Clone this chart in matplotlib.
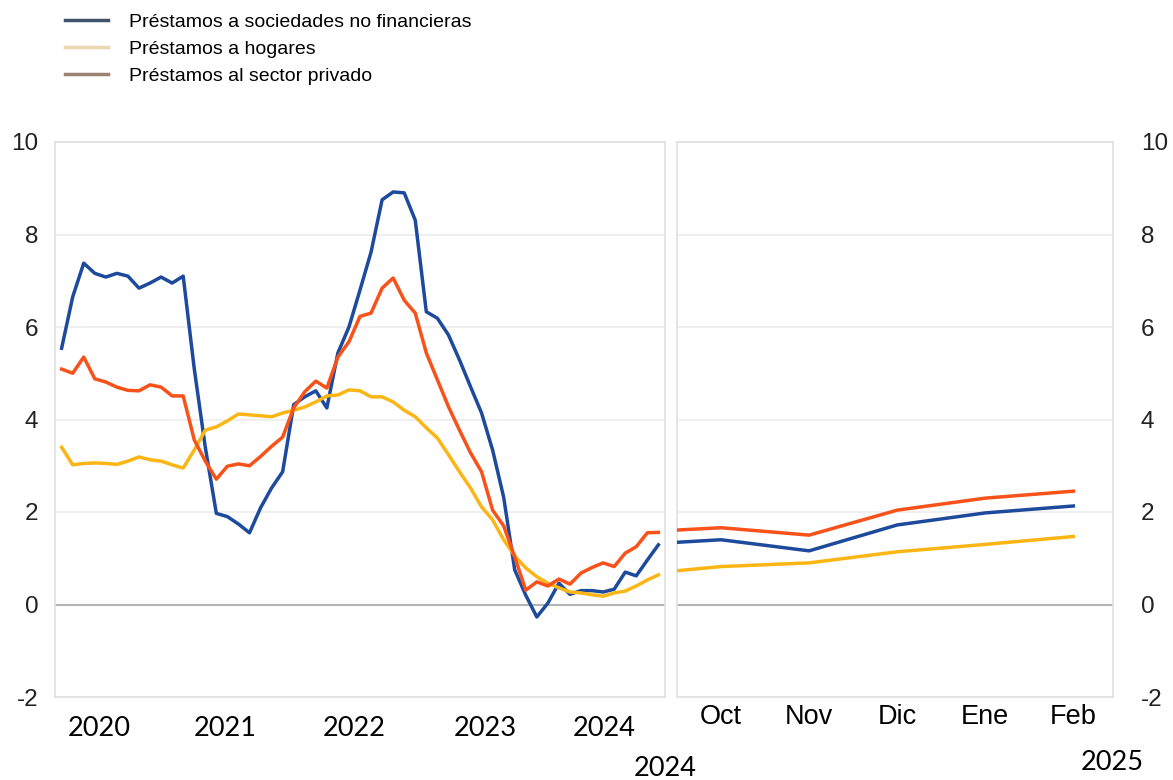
import numpy as np
import matplotlib
matplotlib.use("Agg")
import matplotlib.pyplot as plt
from matplotlib.lines import Line2D

plt.rcParams['axes.unicode_minus'] = False

# monthly growth rates, Mar 2020 - Sep 2024
nfc = [5.54, 6.65, 7.38, 7.16, 7.08, 7.16, 7.10, 6.84, 6.95, 7.08, 6.95, 7.10,
       5.10, 3.40, 1.97, 1.90, 1.74, 1.55, 2.09, 2.52, 2.87, 4.32, 4.49, 4.62,
       4.25, 5.44, 6.00, 6.80, 7.62, 8.75, 8.92, 8.90, 8.31, 6.33, 6.19, 5.83,
       5.29, 4.71, 4.14, 3.34, 2.32, 0.75, 0.20, -0.27, 0.03, 0.46, 0.22, 0.30,
       0.30, 0.27, 0.33, 0.70, 0.62, 0.96, 1.29]
households = [3.40, 3.02, 3.05, 3.06, 3.05, 3.03, 3.10, 3.19, 3.13, 3.10, 3.02, 2.95,
              3.34, 3.77, 3.84, 3.97, 4.12, 4.10, 4.08, 4.06, 4.14, 4.20, 4.27, 4.38,
              4.51, 4.53, 4.64, 4.62, 4.49, 4.49, 4.38, 4.20, 4.06, 3.82, 3.60, 3.24,
              2.87, 2.52, 2.11, 1.83, 1.40, 1.05, 0.79, 0.60, 0.46, 0.36, 0.27, 0.25,
              0.21, 0.18, 0.25, 0.29, 0.40, 0.53, 0.64]
private = [5.09, 5.00, 5.35, 4.88, 4.81, 4.70, 4.63, 4.62, 4.75, 4.70, 4.51, 4.51,
           3.56, 3.10, 2.71, 2.99, 3.04, 3.00, 3.20, 3.42, 3.62, 4.25, 4.60, 4.83,
           4.68, 5.35, 5.68, 6.23, 6.30, 6.84, 7.06, 6.58, 6.30, 5.44, 4.86, 4.28,
           3.77, 3.28, 2.87, 2.04, 1.70, 1.03, 0.31, 0.49, 0.40, 0.55, 0.44, 0.68,
           0.80, 0.90, 0.82, 1.11, 1.25, 1.55, 1.56]
years = ['2020', '2021', '2022', '2023', '2024']
year_pos = [3.4, 14.8, 26.5, 38.3, 49.1]

# Oct 2024 - Feb 2025
months_r = ['Oct', 'Nov', 'Dic', 'Ene', 'Feb']
nfc_r = [1.40, 1.16, 1.72, 1.98, 2.13]
households_r = [0.82, 0.90, 1.14, 1.30, 1.47]
private_r = [1.66, 1.50, 2.04, 2.30, 2.45]

labels = ['Préstamos a sociedades no financieras', 'Préstamos a hogares',
          'Préstamos al sector privado']
colors = ['#1d4a9c', '#fbb615', '#f8521a']
legend_colors = ['#3f536b', '#e9d8b0', '#9c8270']

fig = plt.figure(figsize=(11.73, 7.8), dpi=100)
ax1 = fig.add_axes([55/1173, 1-697/780, 610/1173, 555/780])
ax2 = fig.add_axes([677/1173, 1-697/780, 436/1173, 555/780])

x = np.arange(len(nfc))
for ser, c in zip([nfc, households, private], colors):
    ax1.plot(x, ser, color=c, lw=2.5, zorder=3)

xr = np.arange(-1, len(months_r))
for last, ser, c in zip([nfc[-1], households[-1], private[-1]],
                        [nfc_r, households_r, private_r], colors):
    ax2.plot(xr, [last] + ser, color=c, lw=2.5, zorder=3)

for ax in (ax1, ax2):
    ax.set_ylim(-2, 10)
    ax.set_yticks(range(-2, 11, 2))
    ax.grid(axis='y', color='#ececec', lw=1.2)
    ax.axhline(0, color='#b4b4b4', lw=1.5, zorder=2)
    for s in ax.spines.values():
        s.set_color('#e0e0e0')
        s.set_linewidth(1.2)
    ax.tick_params(length=0)
    ax.set_axisbelow(True)

ax1.set_xlim(-0.6, 54.6)
ax1.set_xticks(year_pos)
ax1.set_xticklabels(years, fontfamily='Lato', fontsize=19.5)
ax1.tick_params(axis='x', pad=14)
ax1.tick_params(axis='y', labelsize=17.5, pad=12)
for t in ax1.get_yticklabels():
    t.set_fontfamily('Liberation Sans')
    t.set_color('#222222')

ax2.set_xlim(-0.5, 4.45)
ax2.set_xticks(range(len(months_r)))
ax2.set_xticklabels(months_r, fontfamily='Liberation Sans', fontsize=19.5)
ax2.tick_params(axis='x', pad=5)
ax2.yaxis.tick_right()
ax2.tick_params(axis='y', labelsize=17.5, pad=20)
for t in ax2.get_yticklabels():
    t.set_fontfamily('Liberation Sans')
    t.set_color('#222222')

fig.text(665/1173, 1-768/780, '2024', fontfamily='Lato', fontsize=19.5,
         ha='center', va='center')
fig.text(1112/1173, 1-762/780, '2025', fontfamily='Lato', fontsize=19.5,
         ha='center', va='center')

handles = [Line2D([], [], color=c, lw=2.5) for c in legend_colors]
fig.legend(handles, labels, loc='upper left', bbox_to_anchor=(65/1173, 1-13/780),
           frameon=False, handlelength=2.2, handletextpad=1.1,
           labelspacing=0.5, borderpad=0, borderaxespad=0,
           prop={'family': 'Liberation Sans', 'size': 14})

fig.savefig('out.png', dpi=100)
